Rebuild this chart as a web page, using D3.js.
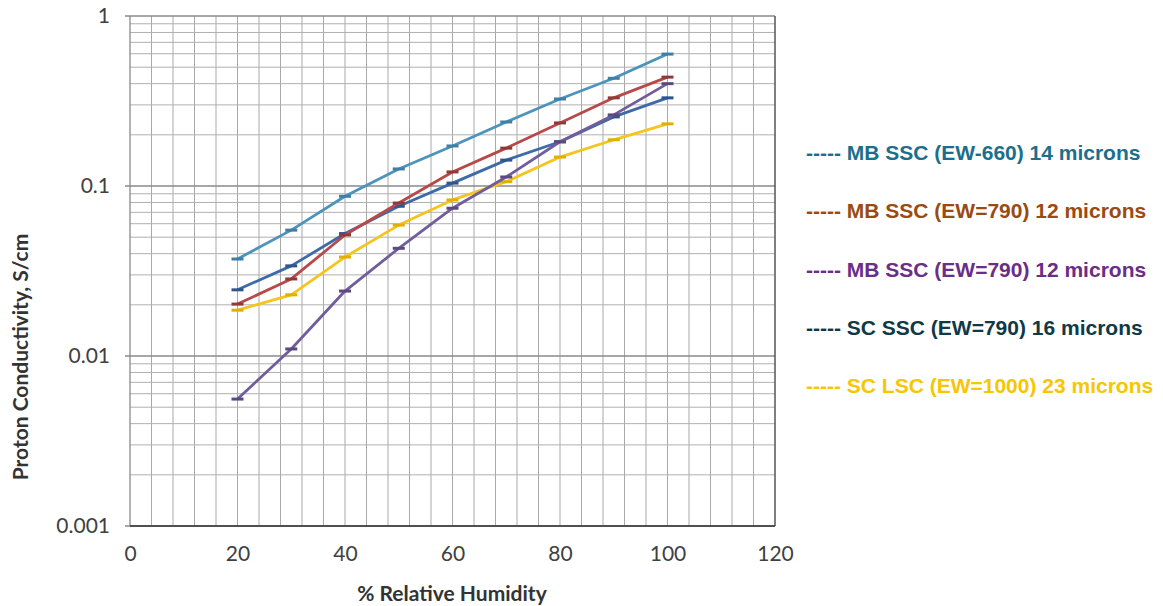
<!DOCTYPE html>
<html><head><meta charset="utf-8">
<script src="https://cdn.jsdelivr.net/npm/d3@7"></script>
<style>body{margin:0;background:#fff}svg{display:block}</style>
</head><body>
<svg id="chart" width="1163" height="606"></svg>
<script>
const humidity = [20, 30, 40, 50, 60, 70, 80, 90, 100];
const mbSsc660_14 = [0.0372, 0.055, 0.087, 0.126, 0.172, 0.238, 0.325, 0.43, 0.597];
const mbSsc790_12a = [0.0202, 0.0284, 0.0515, 0.0794, 0.121, 0.167, 0.235, 0.33, 0.437];
const mbSsc790_12b = [0.00558, 0.011, 0.0241, 0.043, 0.074, 0.113, 0.182, 0.262, 0.40];
const scSsc790_16 = [0.0245, 0.0339, 0.0525, 0.076, 0.104, 0.142, 0.182, 0.255, 0.33];
const scLsc1000_23 = [0.0186, 0.0229, 0.0382, 0.0589, 0.0828, 0.106, 0.148, 0.187, 0.232];
const seriesNames = [
  "----- MB SSC (EW-660) 14 microns",
  "----- MB SSC (EW=790) 12 microns",
  "----- MB SSC (EW=790) 12 microns",
  "----- SC SSC (EW=790) 16 microns",
  "----- SC LSC (EW=1000) 23 microns"
];
const xTicks = [0, 20, 40, 60, 80, 100, 120];
const yTicks = [0.001, 0.01, 0.1, 1];
const yTickLabels = ["0.001", "0.01", "0.1", "1"];

const lineColors = ["#4d93bb", "#b8494a", "#725d9c", "#3f6aa9", "#f5c51e"];
const markColors = ["#3f7fa6", "#8e3a3a", "#5b4a80", "#2f5590", "#e0b000"];
const legendColors = ["#1b6f8c", "#9b4a12", "#6a2d88", "#0f3946", "#f7c600"];
const seriesData = [mbSsc660_14, mbSsc790_12a, mbSsc790_12b, scSsc790_16, scLsc1000_23];
// draw order: back to front
const drawOrder = [4, 3, 1, 2, 0];

const svg = d3.select("#chart");
const L = 130, R = 775, T = 16, B = 526;
const x = d3.scaleLinear().domain([0, 120]).range([L, R]);
const y = d3.scaleLog().domain([0.001, 1]).range([B, T]);

const g = svg.append("g");
// vertical grid
g.selectAll("line.vg").data(d3.range(4, 120, 4)).join("line")
  .attr("x1", d => x(d)).attr("x2", d => x(d)).attr("y1", T).attr("y2", B)
  .attr("stroke", "#a9a9a9").attr("stroke-width", 1);
// horizontal minor grid
const minor = [];
[0.001, 0.01, 0.1].forEach(dec => { for (let k = 2; k <= 9; k++) minor.push(dec * k); });
g.selectAll("line.hg").data(minor).join("line")
  .attr("x1", L).attr("x2", R).attr("y1", d => y(d)).attr("y2", d => y(d))
  .attr("stroke", "#b0b0b0").attr("stroke-width", 1);
g.selectAll("line.hd").data(yTicks).join("line")
  .attr("x1", L - 5).attr("x2", R).attr("y1", d => y(d)).attr("y2", d => y(d))
  .attr("stroke", "#8a8a8a").attr("stroke-width", 1.3);
// frame
g.append("line").attr("x1", L).attr("x2", L).attr("y1", T).attr("y2", B).attr("stroke", "#8a8a8a").attr("stroke-width", 1.3);
g.append("line").attr("x1", R).attr("x2", R).attr("y1", T).attr("y2", B).attr("stroke", "#555").attr("stroke-width", 1.5);
g.append("line").attr("x1", L).attr("x2", R).attr("y1", B).attr("y2", B).attr("stroke", "#333").attr("stroke-width", 1.5);

// y tick labels
const yAxis = d3.axisLeft(y).tickValues(yTicks).tickFormat((d, i) => yTickLabels[i]).tickSize(0).tickPadding(20);
const ya = svg.append("g").attr("transform", `translate(${L},0)`).call(yAxis);
ya.select(".domain").remove();
ya.selectAll("text").attr("font-family", "Lato, 'Open Sans', sans-serif").attr("font-size", 21).attr("fill", "#404040");

// x tick labels
const xAxis = d3.axisBottom(x).tickValues(xTicks).tickFormat(d3.format("d")).tickSize(0).tickPadding(20);
const xa = svg.append("g").attr("transform", `translate(0,${B})`).call(xAxis);
xa.select(".domain").remove();
xa.selectAll("text").attr("font-family", "Lato, 'Open Sans', sans-serif").attr("font-size", 21).attr("fill", "#404040");

// axis titles
svg.append("text").attr("x", 452).attr("y", 601).attr("text-anchor", "middle")
  .attr("font-family", "Lato, 'Open Sans', sans-serif").attr("font-weight", "bold").attr("font-size", 21).attr("fill", "#333")
  .text("% Relative Humidity");
svg.append("text").attr("transform", "translate(28,357) rotate(-90)").attr("text-anchor", "middle")
  .attr("font-family", "Lato, 'Open Sans', sans-serif").attr("font-weight", "bold").attr("font-size", 21).attr("fill", "#333")
  .text("Proton Conductivity, S/cm");

// lines
const line = d3.line().x((d, i) => x(humidity[i])).y(d => y(d));
drawOrder.forEach(si => {
  svg.append("path").datum(seriesData[si]).attr("d", line)
    .attr("fill", "none").attr("stroke", lineColors[si]).attr("stroke-width", 2.8)
    .attr("stroke-linejoin", "round");
  svg.append("g").selectAll("line").data(seriesData[si]).join("line")
    .attr("x1", (d, i) => x(humidity[i]) - 6).attr("x2", (d, i) => x(humidity[i]) + 6)
    .attr("y1", d => y(d)).attr("y2", d => y(d))
    .attr("stroke", markColors[si]).attr("stroke-width", 3);
});

// legend
const legY = [160, 218, 277, 335, 393];
svg.append("g").selectAll("text").data(seriesNames).join("text")
  .attr("x", 806).attr("y", (d, i) => legY[i])
  .attr("font-family", "'Liberation Sans', Arial, sans-serif").attr("font-weight", "bold").attr("font-size", 21)
  .attr("fill", (d, i) => legendColors[i]).text(d => d);
</script>
</body></html>
